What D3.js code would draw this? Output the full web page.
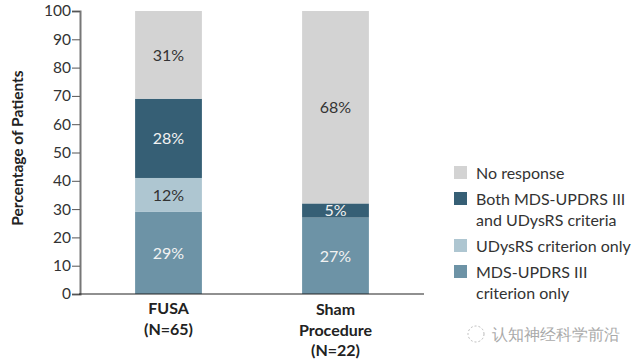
<!DOCTYPE html>
<html><head><meta charset="utf-8">
<script src="https://cdn.jsdelivr.net/npm/d3@7"></script>
<style>body{margin:0;background:#fff}svg{display:block}text{font-family:"Lato","Open Sans",sans-serif}</style>
</head><body>
<svg id="c" width="640" height="361"></svg>
<script>
const groups = ["FUSA", "Sham Procedure"];
const groupLabels = [["FUSA", "(N=65)"], ["Sham", "Procedure", "(N=22)"]];
const seriesNames = ["MDS-UPDRS III criterion only", "UDysRS criterion only", "Both MDS-UPDRS III and UDysRS criteria", "No response"];
const mdsOnly = [29, 27];
const udysOnly = [12, 0];
const both = [28, 5];
const noResp = [31, 68];
const yTicks = [0, 10, 20, 30, 40, 50, 60, 70, 80, 90, 100];
const legendLabels = [["No response"], ["Both MDS-UPDRS III", "and UDysRS criteria"], ["UDysRS criterion only"], ["MDS-UPDRS III", "criterion only"]];
const colors = ["#6d93a6", "#aec6d1", "#365f75", "#d3d3d3"];
const textColors = ["#f2f2f2", "#333", "#f2f2f2", "#333"];

const svg = d3.select("#c");
const y = d3.scaleLinear().domain([0, 100]).range([294, 11]);
const x = d3.scaleBand().domain(groups).range([80, 424]).paddingInner(0.6).paddingOuter(0.33);

const rows = groups.map((g, i) => ({g, v: [mdsOnly[i], udysOnly[i], both[i], noResp[i]]}));
const stackData = rows.map(r => { const o = {g: r.g}; seriesNames.forEach((s, k) => o[s] = r.v[k]); return o; });
const stacked = d3.stack().keys(seriesNames)(stackData);

stacked.forEach((layer, k) => {
  layer.forEach(d => {
    const h = d[1] - d[0];
    if (h <= 0) return;
    svg.append("rect").attr("x", x(d.data.g)).attr("width", x.bandwidth())
      .attr("y", y(d[1])).attr("height", y(d[0]) - y(d[1])).attr("fill", colors[k]);
    svg.append("text").attr("x", x(d.data.g) + x.bandwidth() / 2)
      .attr("y", (y(d[0]) + y(d[1])) / 2).attr("dy", "0.36em")
      .attr("text-anchor", "middle").attr("font-size", 16).attr("fill", textColors[k])
      .text(h + "%");
  });
});

// y axis
const ya = svg.append("g").attr("transform", "translate(80,0)")
  .call(d3.axisLeft(y).tickValues(yTicks).tickSize(8).tickPadding(1));
ya.select(".domain").attr("stroke", "#777").attr("stroke-width", 2);
ya.selectAll(".tick line").attr("stroke", "#555");
ya.selectAll(".tick text").attr("font-size", 15.5).attr("fill", "#333").attr("font-family", "Lato");

// x baseline
svg.append("line").attr("x1", 79).attr("x2", 424).attr("y1", y(0)).attr("y2", y(0)).attr("stroke", "#222").attr("stroke-width", 1.2);

// group labels
const labelStart = [314, 315];
groups.forEach((g, i) => {
  groupLabels[i].forEach((t, j) => {
    svg.append("text").attr("x", x(g) + x.bandwidth() / 2).attr("y", labelStart[i] + j * 20.5)
      .attr("text-anchor", "middle").attr("font-size", 16).attr("font-weight", "bold").attr("fill", "#222").text(t);
  });
});

// y title
svg.append("text").attr("transform", "translate(23,148) rotate(-90)").attr("text-anchor", "middle")
  .attr("font-size", 15.5).attr("font-weight", "bold").attr("fill", "#222").text("Percentage of Patients");

// legend
const legendOrder = [3, 2, 1, 0];
const legY = [173, 199, 246, 272];
legendOrder.forEach((k, i) => {
  svg.append("rect").attr("x", 454).attr("y", legY[i] - 7).attr("width", 13).attr("height", 13).attr("fill", colors[k]);
  legendLabels[i].forEach((t, j) => {
    svg.append("text").attr("x", 476).attr("y", legY[i] + j * 21).attr("dy", "0.35em")
      .attr("font-size", 16).attr("fill", "#333").text(t);
  });
});

// watermark
svg.append("circle").attr("cx", 476).attr("cy", 334).attr("r", 8).attr("fill", "none").attr("stroke", "#bbb").attr("stroke-dasharray", "2,2");
svg.append("text").attr("x", 492).attr("y", 334).attr("dy", "0.35em").attr("font-size", 16)
  .attr("fill", "#aaa").attr("font-family", "Noto Sans CJK SC").text("认知神经科学前沿");
</script>
</body></html>
